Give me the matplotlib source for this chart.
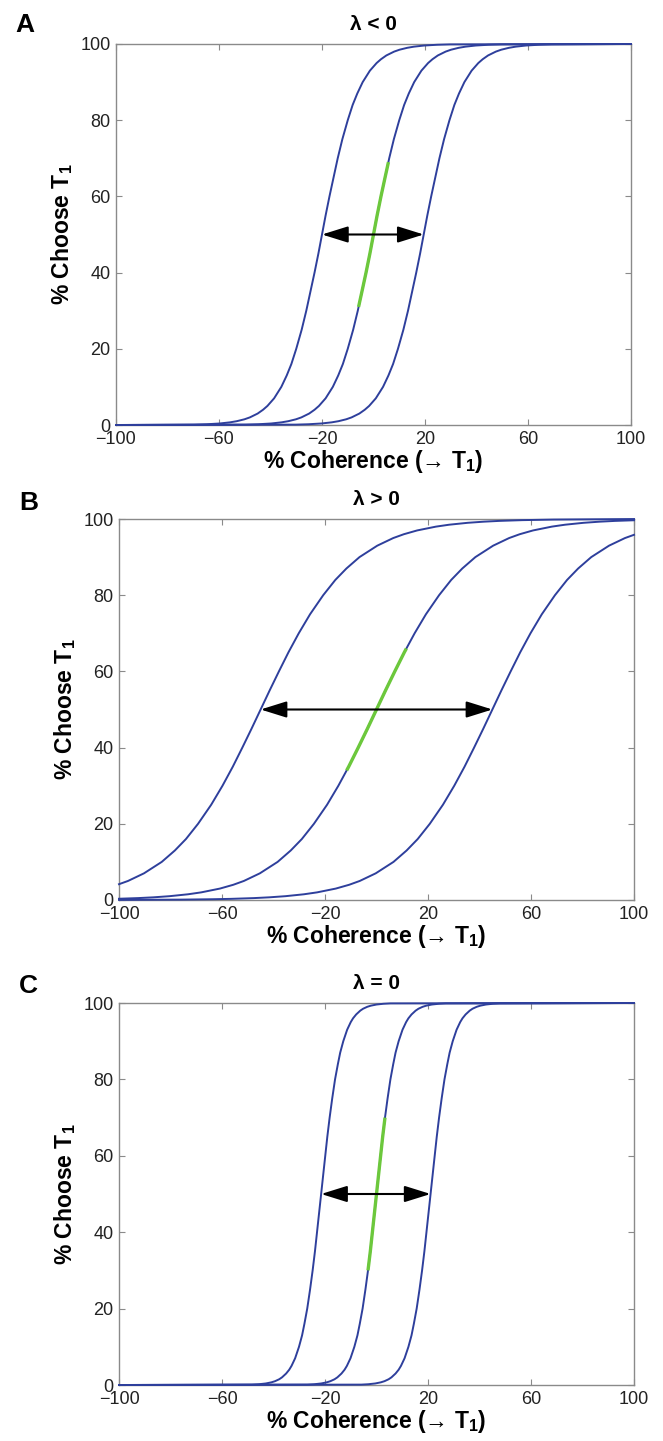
import matplotlib
matplotlib.use("Agg")
import matplotlib.pyplot as plt

plt.rcParams["font.family"] = ["Liberation Sans", "DejaVu Sans"]
plt.rcParams["mathtext.fontset"] = "custom"
plt.rcParams["mathtext.rm"] = "Liberation Sans"
plt.rcParams["mathtext.bf"] = "Liberation Sans:bold"

# ---- panel A (lambda < 0): three psychometric curves
a_y = [0, 0.1, 0.2, 0.4, 0.7, 1, 1.5, 2, 3, 4, 5, 7, 10, 13, 16, 20, 25, 30,
       35, 40, 45, 50, 55, 60, 65, 70, 75, 80, 84, 87, 90, 93, 95, 96, 97, 98,
       98.5, 99, 99.3, 99.6, 99.8, 99.9, 100]
a_left = [-100, -69.7, -64.7, -59.7, -55.7, -53.1, -50.1, -48.0, -45.0, -42.9,
          -41.2, -38.6, -35.8, -33.7, -31.9, -30.0, -27.9, -26.1, -24.5, -22.9,
          -21.4, -20, -18.6, -17.1, -15.5, -13.9, -12.1, -10.0, -8.1, -6.3,
          -4.2, -1.4, 1.2, 2.9, 5.0, 8.0, 10.1, 13.1, 15.7, 19.7, 24.7, 29.7, 100]
a_mid = [-100, -49.7, -44.7, -39.7, -35.7, -33.1, -30.1, -28.0, -25.0, -22.9,
         -21.2, -18.6, -15.8, -13.7, -11.9, -10.0, -7.9, -6.1, -4.5, -2.9, -1.4,
         0, 1.4, 2.9, 4.5, 6.1, 7.9, 10.0, 11.9, 13.7, 15.8, 18.6, 21.2, 22.9,
         25.0, 28.0, 30.1, 33.1, 35.7, 39.7, 44.7, 49.7, 100]
a_right = [-100, -30.2, -25.2, -20.2, -16.2, -13.6, -10.6, -8.5, -5.5, -3.4,
           -1.7, 0.9, 3.7, 5.8, 7.6, 9.5, 11.6, 13.4, 15.0, 16.6, 18.1, 19.5,
           20.9, 22.4, 24.0, 25.6, 27.4, 29.5, 31.4, 33.2, 35.3, 38.1, 40.7,
           42.4, 44.5, 47.5, 49.6, 52.6, 55.2, 59.2, 64.2, 69.2, 100]
a_green_x = [-5.8, -4.5, -2.9, -1.4, 0, 1.4, 2.9, 4.5, 5.8]
a_green_y = [31, 35, 40, 45, 50, 55, 60, 65, 69]
a_arrow = (-20, 19.5)

# ---- panel B (lambda > 0)
b_left_x = [-100, -96.5, -90.3, -83.4, -78.3, -74.0, -69.3, -64.2, -59.8, -55.8,
            -52.1, -48.5, -45, -41.5, -37.9, -34.2, -30.2, -25.8, -20.7, -16.0,
            -11.7, -6.6, 0.3, 6.5, 10.6, 15.8, 23.1, 28.2, 35.4, 41.7, 47.6,
            56.6, 68.8, 100]
b_left_y = [4.15, 5, 7, 10, 13, 16, 20, 25, 30, 35, 40, 45, 50, 55, 60, 65, 70,
            75, 80, 84, 87, 90, 93, 95, 96, 97, 98, 98.5, 99, 99.3, 99.5, 99.7,
            99.85, 99.99]
b_mid_x = [-100, -92.6, -86.7, -80.4, -73.2, -68.1, -60.8, -55.6, -51.5, -45.3,
           -38.4, -33.3, -29.0, -24.3, -19.2, -14.8, -10.8, -7.1, -3.5, 0, 3.5,
           7.1, 10.8, 14.8, 19.2, 24.3, 29.0, 33.3, 38.4, 45.3, 51.5, 55.6, 60.8,
           68.1, 73.2, 80.4, 86.7, 92.6, 100]
b_mid_y = [0.33, 0.5, 0.7, 1, 1.5, 2, 3, 4, 5, 7, 10, 13, 16, 20, 25, 30, 35,
           40, 45, 50, 55, 60, 65, 70, 75, 80, 84, 87, 90, 93, 95, 96, 97, 98,
           98.5, 99, 99.3, 99.5, 99.67]
b_right_x = [-100, -75.9, -63.7, -56.6, -47.6, -41.7, -35.4, -28.2, -23.1,
             -15.8, -10.6, -6.5, -0.3, 6.6, 11.7, 16.0, 20.7, 25.8, 30.2, 34.2,
             37.9, 41.5, 45, 48.5, 52.1, 55.8, 59.8, 64.2, 69.3, 74.0, 78.3,
             83.4, 90.3, 96.5, 100]
b_right_y = [0.03, 0.1, 0.2, 0.3, 0.5, 0.7, 1, 1.5, 2, 3, 4, 5, 7, 10, 13, 16,
             20, 25, 30, 35, 40, 45, 50, 55, 60, 65, 70, 75, 80, 84, 87, 90, 93,
             95, 95.85]
b_green_x = [-11.6, -10.8, -7.1, -3.5, 0, 3.5, 7.1, 10.8, 11.6]
b_green_y = [34, 35, 40, 45, 50, 55, 60, 65, 66]
b_arrow = (-45, 45)

# ---- panel C (lambda = 0)
c_y = a_y
c_left = [-100, -48.4, -45.7, -43.0, -40.8, -39.4, -37.8, -36.7, -35.1, -33.9,
          -33.0, -31.6, -30.1, -28.9, -28.0, -26.9, -25.8, -24.8, -23.9, -23.1,
          -22.3, -21.5, -20.7, -19.9, -19.1, -18.2, -17.2, -16.1, -15.0, -14.1,
          -12.9, -11.4, -10.0, -9.1, -7.9, -6.3, -5.2, -3.6, -2.2, 0.0, 2.7,
          5.4, 100]
c_mid = [-100, -26.9, -24.2, -21.5, -19.3, -17.9, -16.3, -15.2, -13.6, -12.4,
         -11.5, -10.1, -8.6, -7.4, -6.5, -5.4, -4.3, -3.3, -2.4, -1.6, -0.8, 0,
         0.8, 1.6, 2.4, 3.3, 4.3, 5.4, 6.5, 7.4, 8.6, 10.1, 11.5, 12.4, 13.6,
         15.2, 16.3, 17.9, 19.3, 21.5, 24.2, 26.9, 100]
c_right = [-100, -5.9, -3.2, -0.5, 1.7, 3.1, 4.7, 5.8, 7.4, 8.6, 9.5, 10.9,
           12.4, 13.6, 14.5, 15.6, 16.7, 17.7, 18.6, 19.4, 20.2, 21, 21.8, 22.6,
           23.4, 24.3, 25.3, 26.4, 27.5, 28.4, 29.6, 31.1, 32.5, 33.4, 34.6,
           36.2, 37.3, 38.9, 40.3, 42.5, 45.2, 47.9, 100]
c_green_x = [-3.3, -2.4, -1.6, -0.8, 0, 0.8, 1.6, 2.4, 3.3]
c_green_y = [30, 35, 40, 45, 50, 55, 60, 65, 70]
c_arrow = (-21.5, 21)

xticks = [-100, -60, -20, 20, 60, 100]
yticks = [0, 20, 40, 60, 80, 100]

BLUE = "#2e3f9c"
GREEN = "#6cc83c"
GREY = "#8a8a8a"

W, H = 663, 1441
fig = plt.figure(figsize=(W / 100, H / 100), dpi=100)


def make_axes(left, top, right, bottom):
    return fig.add_axes([left / W, 1 - bottom / H, (right - left) / W, (bottom - top) / H])


panels = [
    (make_axes(116, 44, 631, 425), "\u03bb < 0", "A", (15, 32),
     [(a_left, a_y), (a_mid, a_y), (a_right, a_y)], (a_green_x, a_green_y), a_arrow),
    (make_axes(119, 519, 634, 900), "\u03bb > 0", "B", (19, 510),
     [(b_left_x, b_left_y), (b_mid_x, b_mid_y), (b_right_x, b_right_y)],
     (b_green_x, b_green_y), b_arrow),
    (make_axes(119, 1003, 634, 1385), "\u03bb = 0", "C", (19, 993),
     [(c_left, c_y), (c_mid, c_y), (c_right, c_y)], (c_green_x, c_green_y), c_arrow),
]

for ax, title, letter, (lx, ly), curves, green, arrow in panels:
    for cx, cy in curves:
        ax.plot(cx, cy, color=BLUE, lw=1.4, clip_on=False, zorder=3)
    ax.plot(green[0], green[1], color=GREEN, lw=2.4, solid_capstyle="butt", zorder=4)
    ax.annotate("", xy=(arrow[1], 50), xytext=(arrow[0], 50),
                arrowprops=dict(arrowstyle="<|-|>,head_length=0.8,head_width=0.25",
                                color="black", lw=1.5, mutation_scale=20,
                                shrinkA=0, shrinkB=0), zorder=5)

    ax.set_xlim(-100, 100)
    ax.set_ylim(0, 100)
    ax.set_xticks(xticks)
    ax.set_yticks(yticks)
    ax.tick_params(direction="in", top=True, right=True, length=4, width=0.8,
                   color=GREY, labelsize=13, labelcolor="#222222", pad=4)
    for sp in ax.spines.values():
        sp.set_color(GREY)
        sp.set_linewidth(1.0)

    ax.set_title(title, fontsize=15, fontweight="bold", pad=10)
    ax.set_xlabel("% Coherence (\u2192 T$_\\mathbf{1}$)", fontsize=16.5,
                  fontweight="bold", labelpad=0)
    ax.set_ylabel("% Choose T$_\\mathbf{1}$", fontsize=16.5, fontweight="bold",
                  labelpad=4)
    fig.text(lx / W, 1 - ly / H, letter, fontsize=19, fontweight="bold",
             va="baseline", ha="left")

fig.savefig("out.png", dpi=100)
